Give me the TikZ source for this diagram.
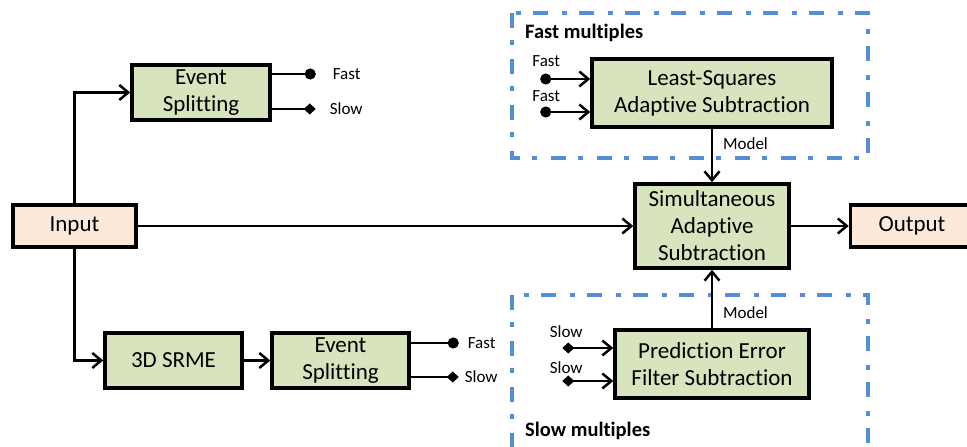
\documentclass[tikz,border=0pt]{standalone}
\usepackage{fontspec}
\setmainfont[Ligatures=NoCommon]{Carlito}
\usetikzlibrary{arrows.meta,positioning}

\definecolor{boxgreen}{HTML}{D7E4BD}
\definecolor{boxpeach}{HTML}{FDE9D9}
\definecolor{groupblue}{HTML}{558ED5}

\tikzset{
  block/.style={draw,line width=3.5pt,fill=boxgreen,align=center,inner sep=0pt,
    font=\fontsize{23}{27}\selectfont},
  io/.style={block,fill=boxpeach,minimum width=123pt,minimum height=42pt},
  barb/.tip={Straight Barb[length=9pt,width=15pt,line width=2.5pt]},
  dia/.tip={Diamond[length=12pt,width=11pt]},
  link/.style={line width=2.2pt,-barb},
  fastout/.style={line width=2.2pt,-{Circle[length=11pt]}},
  slowout/.style={line width=2.2pt,-dia},
  fastin/.style={line width=2.2pt,{Circle[length=11pt]}-barb},
  slowin/.style={line width=2.2pt,dia-barb},
  small/.style={inner sep=1pt,font=\fontsize{17}{20}\selectfont},
  group/.style={groupblue,line width=4pt,dash pattern=on 15pt off 12pt on 5pt off 14pt},
  grouplabel/.style={inner sep=0pt,font=\fontsize{20.5}{24}\selectfont\bfseries}
}

\begin{document}
\begin{tikzpicture}[x=1pt,y=1pt,on grid]
   \clip (0,0) rectangle (967,447);
   % main chain
   \node[io] (input) at (74.5,221) {Input};
   \node[block,minimum width=138pt,minimum height=55pt] (split1) [above right=133.5pt and 126.5pt of input] {Event\\Splitting};
   \node[block,minimum width=137pt,minimum height=55pt] (srme) [below right=134.5pt and 99pt of input] {3D SRME};
   \node[block,minimum width=137pt,minimum height=55pt] (split2) [right=167pt of srme] {Event\\Splitting};
   \node[block,minimum width=154pt,minimum height=84pt] (simul) [right=637.5pt of input] {Simultaneous\\Adaptive\\Subtraction};
   \node[io] (output) [right=200pt of simul] {Output};
   \node[block,minimum width=240pt,minimum height=68pt] (lsas) [above=133pt of simul] {Least-Squares\\Adaptive Subtraction};
   \node[block,minimum width=194pt,minimum height=68pt] (pefs) [below=138pt of simul] {Prediction Error\\Filter Subtraction};

   % groups
   \draw[group] (512,434) rectangle (868,289);
   \draw[group] (512,152) rectangle (868,-20);
   \node[grouplabel,anchor=west] (fastgrp) at (525,414) {Fast multiples};
   \node[grouplabel,anchor=west] (slowgrp) at (525,16) {Slow multiples};

   \draw[link] (input.north) |- (split1.west);
   \draw[link] (input.south) |- (srme.west);
   \draw[link] (srme) -- (split2);
   \draw[link] (input.east) -- (input.east -| simul.west);
   \draw[link] (simul.east |- output.west) -- (output.west);
   \draw[link] (lsas) -- node[small,anchor=west,pos=0.28,xshift=9pt] {Model} (simul);
   \draw[link] (pefs) -- node[small,anchor=west,pos=0.27,xshift=9pt] {Model} (simul);

   % splitting outputs
   \coordinate (f1) at ([xshift=44pt,yshift=18.5pt]split1.east);
   \coordinate (s1) at ([xshift=44pt,yshift=-16.5pt]split1.east);
   \coordinate (f2) at ([xshift=48pt,yshift=17.5pt]split2.east);
   \coordinate (s2) at ([xshift=48pt,yshift=-16.5pt]split2.east);
   \draw[fastout] ([yshift=18.5pt]split1.east) -- (f1) node[small,anchor=west,xshift=15pt] {Fast};
   \draw[slowout] ([yshift=-16.5pt]split1.east) -- (s1) node[small,anchor=west,xshift=12pt] {Slow};
   \draw[fastout] ([yshift=17.5pt]split2.east) -- (f2) node[small,anchor=west,xshift=7pt] {Fast};
   \draw[slowout] ([yshift=-16.5pt]split2.east) -- (s2) node[small,anchor=west,xshift=4pt] {Slow};

   % inputs of the two subtractions
   \coordinate (fin1) at ([xshift=-50pt,yshift=14pt]lsas.west);
   \coordinate (fin2) at ([xshift=-50pt,yshift=-19pt]lsas.west);
   \coordinate (sin1) at ([xshift=-51pt,yshift=16pt]pefs.west);
   \coordinate (sin2) at ([xshift=-51pt,yshift=-17pt]pefs.west);
   \draw[fastin] (fin1) -- (fin1 -| lsas.west);
   \draw[fastin] (fin2) -- (fin2 -| lsas.west);
   \draw[slowin] (sin1) -- (sin1 -| pefs.west);
   \draw[slowin] (sin2) -- (sin2 -| pefs.west);
   \node[small] (fin1lbl) at ([xshift=6pt,yshift=18pt]fin1) {Fast};
   \node[small] (fin2lbl) at ([xshift=6pt,yshift=16pt]fin2) {Fast};
   \node[small] (sin1lbl) at ([xshift=4pt,yshift=16pt]sin1) {Slow};
   \node[small] (sin2lbl) at ([xshift=4pt,yshift=13pt]sin2) {Slow};
\end{tikzpicture}
\end{document}
